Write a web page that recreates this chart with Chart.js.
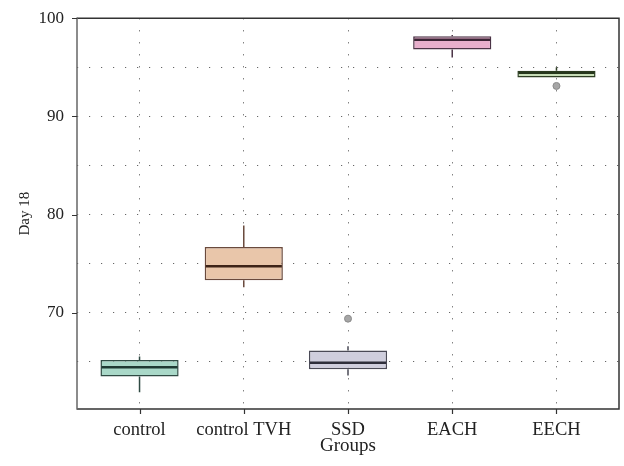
<!DOCTYPE html>
<html>
<head>
<meta charset="utf-8">
<script src="https://cdn.jsdelivr.net/npm/chart.js@4.4.0/dist/chart.umd.min.js"></script>
<style>
  html, body { margin: 0; padding: 0; background: #fff; }
  #wrap { width: 624px; height: 466px; position: relative; }
</style>
</head>
<body>
<div id="wrap"><canvas id="boxChart"></canvas></div>
<script>
// groups and five-number summaries (day 18)
const groups = ['control', 'control TVH', 'SSD', 'EACH', 'EECH'];
const whiskerLow = [61.9, 72.6, 63.6, 96.0, 93.95];
const quartile1 = [63.5, 73.3, 64.25, 96.8, 93.95];
const medians = [64.45, 74.75, 64.9, 97.8, 94.45];
const quartile3 = [65.2, 76.7, 66.15, 98.15, 94.65];
const whiskerHigh = [65.55, 78.9, 66.6, 98.3, 95.0];
const outlierGroup = [3, 5];
const outlierValue = [69.4, 93.1];
const yTicks = [65, 70, 75, 80, 85, 90, 95, 100];

const fills = ['#a9d8c8', '#e9c6aa', '#cfcedd', '#e8afcc', '#c6dcb5'];
const edges = ['#2f4a43', '#6a4a3d', '#4a4a56', '#4c3447', '#2e3e23'];
const medianColors = ['#1f3a33', '#3e2418', '#2f2f3b', '#3a2434', '#26371c'];

const serif = "'Liberation Serif', 'DejaVu Serif', serif";

// whiskers go under the boxes, medians on top, then frame and tick marks
const boxParts = {
    id: 'boxParts',
    beforeDatasetsDraw(chart) {
        const { ctx, scales: { x, y } } = chart;
        ctx.save();
        ctx.lineWidth = 1.5;
        groups.forEach((g, i) => {
            const px = x.getPixelForValue(i + 1);
            ctx.strokeStyle = edges[i];
            ctx.beginPath();
            ctx.moveTo(px, y.getPixelForValue(quartile3[i]));
            ctx.lineTo(px, y.getPixelForValue(whiskerHigh[i]));
            ctx.moveTo(px, y.getPixelForValue(quartile1[i]));
            ctx.lineTo(px, y.getPixelForValue(whiskerLow[i]));
            ctx.stroke();
        });
        ctx.restore();
    },
    afterDatasetsDraw(chart) {
        const { ctx, scales: { y } } = chart;
        const bars = chart.getDatasetMeta(0).data;
        ctx.save();
        ctx.lineWidth = 2.5;
        bars.forEach((bar, i) => {
            const py = y.getPixelForValue(medians[i]);
            ctx.strokeStyle = medianColors[i];
            ctx.beginPath();
            ctx.moveTo(bar.x - bar.width / 2 + 1, py);
            ctx.lineTo(bar.x + bar.width / 2 - 1, py);
            ctx.stroke();
        });
        ctx.restore();
    },
    afterDraw(chart) {
        const { ctx, scales: { x, y } } = chart;
        const a = chart.chartArea;
        ctx.save();
        ctx.lineWidth = 1.5;
        ctx.strokeStyle = '#333';
        ctx.beginPath();
        ctx.moveTo(a.left, a.top);
        ctx.lineTo(a.right, a.top);
        ctx.lineTo(a.right, a.bottom);
        ctx.lineTo(a.left, a.bottom);
        ctx.stroke();
        ctx.strokeStyle = '#666';
        ctx.beginPath();
        ctx.moveTo(a.left, a.top - 0.75);
        ctx.lineTo(a.left, a.bottom + 0.75);
        ctx.stroke();

        // outward tick marks
        ctx.lineWidth = 1.2;
        ctx.strokeStyle = '#333';
        ctx.beginPath();
        groups.forEach((g, i) => {
            const px = Math.round(x.getPixelForValue(i + 1)) + 0.5;
            ctx.moveTo(px, a.bottom);
            ctx.lineTo(px, a.bottom + 5);
        });
        yTicks.filter(v => v % 10 === 0).forEach(v => {
            const py = Math.round(y.getPixelForValue(v)) + 0.5;
            ctx.moveTo(a.left - 5, py);
            ctx.lineTo(a.left, py);
        });
        ctx.stroke();
        ctx.restore();
    }
};

new Chart(document.getElementById('boxChart'), {
    type: 'bar',
    data: {
        datasets: [
            {
                data: groups.map((g, i) => ({ x: i + 1, y: [quartile1[i], quartile3[i]] })),
                backgroundColor: fills,
                borderColor: edges,
                borderWidth: 1.5,
                borderSkipped: false,
                categoryPercentage: 1,
                barPercentage: 0.75
            },
            {
                type: 'scatter',
                data: outlierGroup.map((g, i) => ({ x: g, y: outlierValue[i] })),
                pointRadius: 3.5,
                pointBackgroundColor: '#a6a6a6',
                pointBorderColor: '#8a8a8a',
                pointBorderWidth: 1
            }
        ]
    },
    options: {
        responsive: true,
        maintainAspectRatio: false,
        animation: false,
        layout: { padding: { top: 15, right: 5, left: 0, bottom: 0 } },
        plugins: {
            legend: { display: false },
            tooltip: { enabled: false }
        },
        scales: {
            x: {
                type: 'linear',
                min: 0.4,
                max: 5.6,
                offset: false,
                afterBuildTicks: scale => { scale.ticks = groups.map((g, i) => ({ value: i + 1 })); },
                afterFit: scale => { scale.height = 57; },
                grid: {
                    offset: false,
                    color: '#666',
                    lineWidth: 1,
                    tickLength: 5,
                    tickColor: 'rgba(0,0,0,0)'
                },
                border: { display: false, dash: [1.2, 10.8] },
                ticks: {
                    color: '#222',
                    padding: 5,
                    font: { family: serif, size: 18.5 },
                    callback: value => groups[value - 1]
                },
                title: {
                    display: true,
                    text: 'Groups',
                    color: '#222',
                    padding: { top: 0, bottom: 9 },
                    font: { family: serif, size: 19 }
                }
            },
            y: {
                min: 60.2,
                max: 100,
                afterBuildTicks: scale => { scale.ticks = yTicks.map(v => ({ value: v })); },
                afterFit: scale => { scale.width = 77; },
                grid: {
                    color: '#666',
                    lineWidth: 1,
                    tickLength: 5,
                    tickColor: 'rgba(0,0,0,0)'
                },
                border: { display: false, dash: [1.2, 10.8] },
                ticks: {
                    color: '#222',
                    padding: 8,
                    font: { family: serif, size: 17 },
                    callback: value => value % 10 === 0 ? value : ''
                },
                title: {
                    display: true,
                    text: 'Day 18',
                    color: '#222',
                    padding: { top: 16, bottom: 0 },
                    font: { family: serif, size: 15 }
                }
            }
        }
    },
    plugins: [boxParts]
});
</script>
</body>
</html>
